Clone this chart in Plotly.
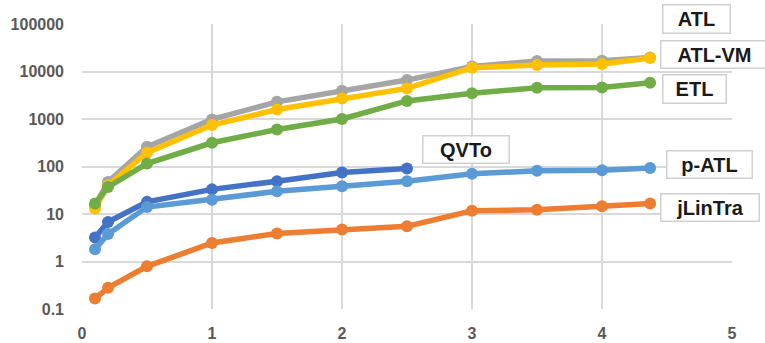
import plotly.graph_objects as go

# Problem size (x) and measured execution time per engine (log scale)
sizes = [0.1, 0.2, 0.5, 1, 1.5, 2, 2.5, 3, 3.5, 4, 4.37]
sizes_qvto = [0.1, 0.2, 0.5, 1, 1.5, 2, 2.5]

qvto = [3.2, 6.8, 18, 33, 49, 75, 91]
jlintra = [0.166, 0.28, 0.79, 2.45, 3.9, 4.7, 5.5, 11.7, 12.3, 14.6, 16.6]
atl = [15, 47, 260, 980, 2300, 3940, 6600, 12800, 16600, 16800, 19800]
atl_vm = [13, 40, 195, 745, 1580, 2700, 4400, 12000, 13700, 14400, 19200]
p_atl = [1.8, 3.8, 14, 20, 30, 38.6, 49, 70, 81, 83, 93]
etl = [16.6, 37, 115, 316, 600, 1000, 2400, 3470, 4550, 4600, 5800]

y_tickvals = [0.1, 1, 10, 100, 1000, 10000, 100000]
y_ticktext = ["0.1", "1", "10", "100", "1000", "10000", "100000"]
x_tickvals = [0, 1, 2, 3, 4, 5]

# series drawn in this order so later ones sit on top
series = [
    ("QVTo", sizes_qvto, qvto, "#4472C4"),
    ("jLinTra", sizes, jlintra, "#ED7D31"),
    ("ATL", sizes, atl, "#A5A5A5"),
    ("ATL-VM", sizes, atl_vm, "#FFC000"),
    ("p-ATL", sizes, p_atl, "#5B9BD5"),
    ("ETL", sizes, etl, "#70AD47"),
]

fig = go.Figure()
for name, xs, ys, color in series:
    fig.add_trace(go.Scatter(
        x=xs, y=ys, name=name, mode="lines+markers",
        line=dict(color=color, width=5.5),
        marker=dict(color=color, size=12),
        cliponaxis=False,
    ))

# boxed series labels: (text, x_paper, y_paper, width, height)
labels = [
    ("ATL", 0.9458, 1.0158, 66, 27),
    ("ATL-VM", 0.9730, 0.8940, 106, 26),
    ("ETL", 0.9420, 0.7734, 62, 27),
    ("QVTo", 0.5906, 0.5602, 85, 26),
    ("p-ATL", 0.9648, 0.5076, 84, 26),
    ("jLinTra", 0.9661, 0.3555, 97, 26),
]
for text, px, py, w, h in labels:
    fig.add_annotation(
        text=text, xref="paper", yref="paper", x=px, y=py,
        xanchor="center", yanchor="middle", showarrow=False,
        width=w, height=h, align="center", valign="middle",
        bgcolor="white", bordercolor="#D0D0D0", borderwidth=1.5, borderpad=0,
        font=dict(family="Liberation Sans", size=20, color="#1A1A1A", weight="bold"),
    )

tick_font = dict(family="Liberation Sans", size=16, color="#595959", weight="bold")

fig.update_layout(
    width=765, height=343,
    margin=dict(l=82, r=33, t=24, b=34, autoexpand=False),
    plot_bgcolor="white", paper_bgcolor="white",
    showlegend=False,
    xaxis=dict(
        range=[0, 5], tickvals=x_tickvals, ticktext=[str(v) for v in x_tickvals],
        showgrid=True, gridcolor="#D9D9D9", gridwidth=2,
        zeroline=False, showline=False, automargin=False,
        tickfont=tick_font, ticklabelstandoff=13,
    ),
    yaxis=dict(
        type="log", range=[-1, 5],
        tickvals=y_tickvals, ticktext=y_ticktext,
        showgrid=True, gridcolor="#D9D9D9", gridwidth=2,
        zeroline=False, showline=False, automargin=False,
        tickfont=tick_font, ticklabelstandoff=17,
    ),
)

fig.write_html("out.html")
